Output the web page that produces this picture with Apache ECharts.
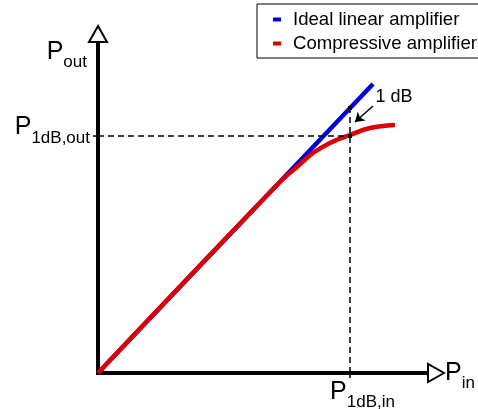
<!DOCTYPE html>
<html><head><meta charset="utf-8">
<script src="https://cdn.jsdelivr.net/npm/echarts@6/dist/echarts.min.js"></script>
<style>html,body{margin:0;padding:0;background:#fff}#c{width:478px;height:409px}</style>
</head><body><div id="c"></div>
<script>
// ---- data (abstract power units) ----
const legendNames = ['Ideal linear amplifier', 'Compressive amplifier'];
const xRange = [0, 330];
const yRange = [0, 331];
const idealLinear = [[0, 0], [275, 289]];
const compressive = [[0, 0], [180, 189], [200, 207], [215, 220], [232, 230], [252, 238], [272, 245], [297, 248]];
const p1dBIn = 252;
const p1dBOut = 237;
const idealAtP1dBIn = 265;
const arrowFrom = [275, 267];
const arrowTo = [257, 251];
const dBLabelAt = [296, 276];
const dBLabelText = '1 dB';
const xName = ['P', 'in'];
const yName = ['P', 'out'];
const xTickLabel = ['P', '1dB,in'];
const yTickLabel = ['P', '1dB,out'];

const FONT = 'Liberation Sans, Arial, sans-serif';
const rich = {
  p: { fontSize: 25, fontFamily: FONT, color: '#000' },
  s: { fontSize: 17, fontFamily: FONT, color: '#000', padding: [21, 0, 0, 0] }
};
const sub = a => '{p|' + a[0] + '}{s|' + a[1] + '}';

const chart = echarts.init(document.getElementById('c'), null, { renderer: 'canvas' });
chart.setOption({
  animation: false,
  backgroundColor: '#fff',
  grid: { left: 98, right: 50, top: 42, bottom: 36, containLabel: false, outerBoundsMode: 'none' },
  legend: {
    data: legendNames.map(n => ({ name: n, icon: 'rect' })),
    orient: 'vertical',
    left: 257, top: 4,
    padding: [6, 45, 5, 16],
    itemWidth: 8, itemHeight: 4, itemGap: 5,
    borderColor: '#000', borderWidth: 1, borderRadius: 0,
    backgroundColor: '#fff',
    textStyle: { fontSize: 18.6, lineHeight: 18, fontFamily: FONT, color: '#000', padding: [0, 0, 0, 7] }
  },
  xAxis: {
    type: 'value', min: xRange[0], max: xRange[1],
    name: sub(xName), nameLocation: 'end', nameGap: 17,
    nameTextStyle: { rich: rich, verticalAlign: 'middle', align: 'left' },
    axisLine: { show: true, onZero: false, symbol: ['none', 'emptyTriangle'], symbolSize: [18, 16], symbolOffset: [0, 8],
      lineStyle: { color: '#000', width: 4, cap: 'square' } },
    axisTick: { show: true, customValues: [p1dBIn], length: 5, lineStyle: { color: '#000', width: 1.5 } },
    axisLabel: { show: true, customValues: [p1dBIn], margin: 0, padding: [0, 0, 0, 25],
      formatter: () => sub(xTickLabel), rich: rich },
    splitLine: { show: false }
  },
  yAxis: {
    type: 'value', min: yRange[0], max: yRange[1],
    name: sub(yName), nameLocation: 'end', nameGap: -10,
    nameTextStyle: { rich: rich, verticalAlign: 'middle', align: 'right', padding: [0, 11, 0, 0] },
    axisLine: { show: true, onZero: false, symbol: ['none', 'emptyTriangle'], symbolSize: [18, 16], symbolOffset: [0, 8],
      lineStyle: { color: '#000', width: 4, cap: 'square' } },
    axisTick: { show: true, customValues: [p1dBOut], length: 5, lineStyle: { color: '#000', width: 1.5 } },
    axisLabel: { show: true, customValues: [p1dBOut], margin: 8, padding: [0, 0, 17, 0],
      formatter: () => sub(yTickLabel), rich: rich },
    splitLine: { show: false }
  },
  series: [
    {
      name: 'guides', type: 'line', data: [], silent: true,
      markLine: {
        silent: true, animation: false,
        symbol: ['none', 'rect'], symbolSize: 4,
        label: { show: false },
        lineStyle: { color: '#000', width: 1.5, type: [6, 4] },
        emphasis: { disabled: true },
        data: [
          [{ coord: [0, p1dBOut] }, { coord: [p1dBIn, p1dBOut] }],
          [{ coord: [p1dBIn, 0] }, { coord: [p1dBIn, idealAtP1dBIn] }]
        ]
      }
    },
    {
      name: legendNames[0], type: 'line', data: idealLinear, symbol: 'none',
      lineStyle: { color: '#0000dd', width: 4.5 }, itemStyle: { color: '#0000dd' }, z: 3
    },
    {
      name: legendNames[1], type: 'line', data: compressive, symbol: 'none', smooth: 0.4,
      lineStyle: { color: '#dd0000', width: 4.5 }, itemStyle: { color: '#dd0000' }, z: 4
    },
    {
      name: 'annotation', type: 'line', data: [], silent: true,
      markLine: {
        silent: true, animation: false,
        symbol: ['none', 'arrow'], symbolSize: 9,
        label: { show: false },
        lineStyle: { color: '#000', width: 1.5, type: 'solid' },
        emphasis: { disabled: true },
        data: [[{ coord: arrowFrom }, { coord: arrowTo }]]
      },
      markPoint: {
        silent: true, animation: false,
        symbol: 'circle', symbolSize: 0,
        label: { show: true, position: 'inside', formatter: dBLabelText, fontSize: 18, fontFamily: FONT, color: '#000' },
        data: [{ coord: dBLabelAt }]
      }
    }
  ]
});
</script></body></html>
